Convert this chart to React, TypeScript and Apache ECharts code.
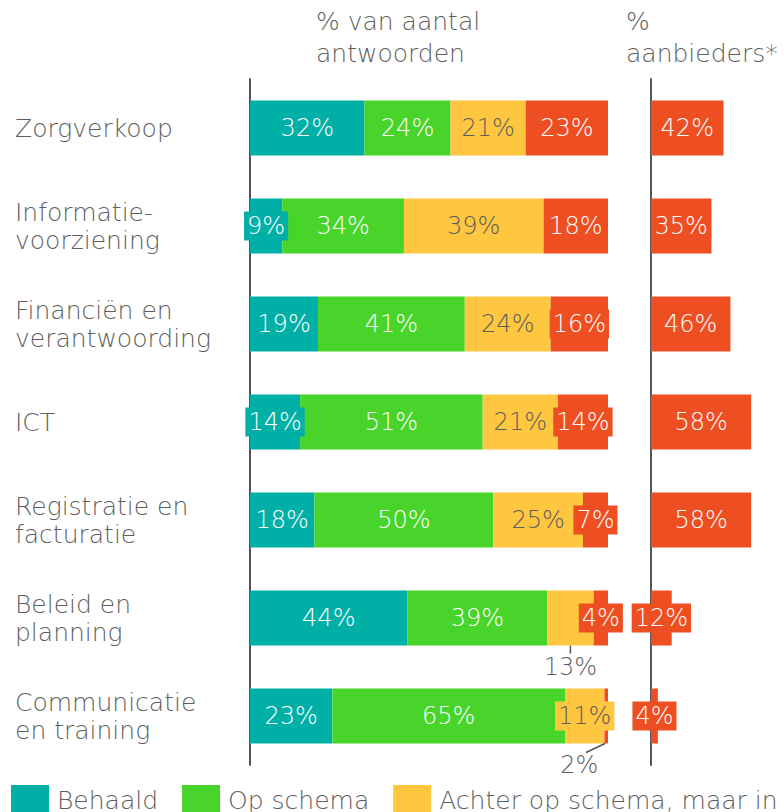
import React, { useEffect, useRef } from "react";
import * as echarts from "echarts";

const categories = [
  "Zorgverkoop",
  "Informatie-\nvoorziening",
  "Financiën en\nverantwoording",
  "ICT",
  "Registratie en\nfacturatie",
  "Beleid en\nplanning",
  "Communicatie\nen training",
];
const behaald = [32, 9, 19, 14, 18, 44, 23];
const opSchema = [24, 34, 41, 51, 50, 39, 65];
const achterInControl = [21, 39, 24, 21, 25, 13, 11];
const achterNietInControl = [23, 18, 16, 14, 7, 4, 2];
const aanbieders = [42, 35, 46, 58, 58, 12, 4];

const seriesNames = [
  "Behaald",
  "Op schema",
  "Achter op schema, maar in control",
  "Achter op schema, niet in control",
];
const colors = ["#00B0A6", "#48D42B", "#FFC640", "#EE4F22"];

const FONT = "DejaVu Sans";
const FW = 200;
const FS = 25;
const TEXT = "#5e5e5e";

export default function App() {
  const ref = useRef<HTMLDivElement>(null);
  useEffect(() => {
    if (!ref.current) return;
    const chart = echarts.init(ref.current, undefined, { renderer: "svg" });
    const barW = 55;
    const baseLabel = (i: number) => ({
      show: true,
      position: "inside",
      formatter: "{c}%",
      fontFamily: FONT,
      fontWeight: FW,
      fontSize: 24,
      color: i === 2 ? TEXT : "#ffffff",
      backgroundColor: colors[i],
      padding: [3, 3, 2, 3],
    });
    const mk = (arr: number[], i: number) =>
      arr.map((v, idx) => {
        if (i === 2 && idx === 5) {
          return {
            value: v,
            label: { position: "bottom", distance: 6, backgroundColor: "transparent", color: TEXT },
          };
        }
        if (i === 3 && idx === 6) {
          return {
            value: v,
            label: {
              position: "bottom",
              distance: 6,
              offset: [-27, 0],
              backgroundColor: "transparent",
              color: TEXT,
            },
          };
        }
        return v;
      });
    const stacks = [behaald, opSchema, achterInControl, achterNietInControl];
    const titleStyle = { fontFamily: FONT, fontWeight: FW, fontSize: FS, color: TEXT, lineHeight: 32 };
    const option: any = {
      animation: false,
      title: [
        { text: "% van aantal\nantwoorden", left: 311, top: 0, textStyle: titleStyle },
        { text: "%\naanbieders*", left: 621, top: 0, textStyle: titleStyle },
      ],
      legend: {
        data: seriesNames,
        left: 6,
        top: 780,
        width: 3000,
        icon: "rect",
        itemWidth: 38,
        itemHeight: 30,
        itemGap: 24,
        textStyle: { fontFamily: FONT, fontWeight: FW, fontSize: FS, color: TEXT, padding: [0, 0, 0, 3] },
      },
      grid: [
        { left: 250, width: 358, top: 79, height: 686 },
        { left: 651, right: 0, top: 79, height: 686 },
      ],
      xAxis: [
        { type: "value", gridIndex: 0, min: 0, max: 100, show: false },
        { type: "value", gridIndex: 1, min: 0, max: 77, show: false },
      ],
      yAxis: [
        {
          type: "category",
          gridIndex: 0,
          data: categories,
          inverse: true,
          axisLine: { show: true, lineStyle: { color: "#555", width: 2 } },
          axisTick: { show: false },
          splitLine: { show: false },
          axisLabel: {
            align: "left",
            margin: 235,
            fontFamily: FONT,
            fontWeight: FW,
            fontSize: FS,
            lineHeight: 28,
            color: TEXT,
          },
          z: 1,
        },
        {
          type: "category",
          gridIndex: 1,
          data: categories,
          inverse: true,
          axisLine: { show: true, lineStyle: { color: "#555", width: 2 } },
          axisTick: { show: false },
          axisLabel: { show: false },
          splitLine: { show: false },
          z: 1,
        },
      ],
      series: [
        ...stacks.map((arr, i) => ({
          name: seriesNames[i],
          type: "bar",
          stack: "total",
          xAxisIndex: 0,
          yAxisIndex: 0,
          barWidth: barW,
          itemStyle: { color: colors[i] },
          label: baseLabel(i),
          data: mk(arr, i),
          z: 3,
        })),
        {
          name: "% aanbieders",
          type: "bar",
          xAxisIndex: 1,
          yAxisIndex: 1,
          barWidth: barW,
          itemStyle: { color: colors[3] },
          label: baseLabel(3),
          data: aanbieders,
          z: 3,
        },
      ],
    };
    chart.setOption(option);

    const px = (x: number, idx: number) =>
      chart.convertToPixel({ gridIndex: 0 }, [x, idx]) as number[];
    const i5 = 5;
    const mid13 = behaald[i5] + opSchema[i5] + achterInControl[i5] / 2;
    const p13 = px(mid13, i5);
    const i6 = 6;
    const mid2 =
      behaald[i6] + opSchema[i6] + achterInControl[i6] + achterNietInControl[i6] / 2;
    const p2 = px(mid2, i6);
    chart.setOption({
      graphic: [
        {
          type: "line",
          shape: { x1: p13[0], y1: p13[1] + barW / 2, x2: p13[0], y2: p13[1] + barW / 2 + 8 },
          style: { stroke: "#555", lineWidth: 1.5 },
          z: 10,
        },
        {
          type: "line",
          shape: { x1: p2[0] - 3, y1: p2[1] + barW / 2, x2: p2[0] - 22, y2: p2[1] + barW / 2 + 9 },
          style: { stroke: "#555", lineWidth: 1.5 },
          z: 10,
        },
      ],
    });
    return () => chart.dispose();
  }, []);
  return (
    <div
      ref={ref}
      style={{ position: "absolute", left: 0, top: 0, width: 784, height: 812, overflow: "hidden" }}
    />
  );
}
